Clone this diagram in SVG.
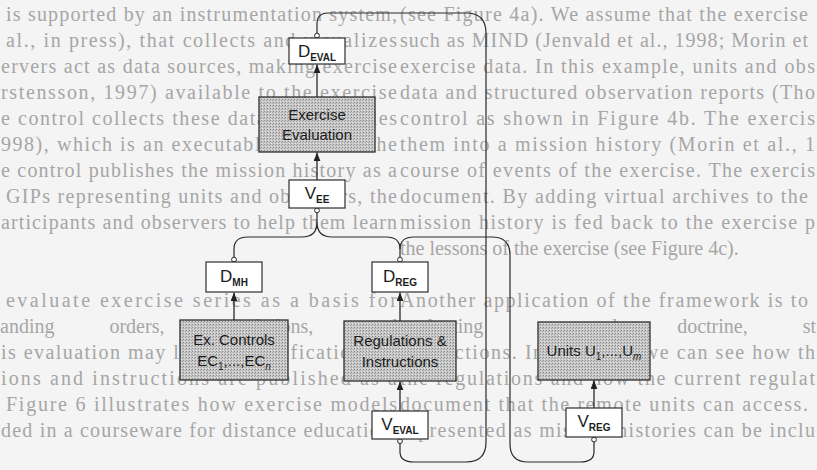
<svg xmlns="http://www.w3.org/2000/svg" width="817" height="470" viewBox="0 0 817 470">
<defs>
<pattern id="stip" width="3" height="3" patternUnits="userSpaceOnUse">
<rect width="3" height="3" fill="#c8c8c8"/>
<rect x="0" y="0" width="1" height="1" fill="#8a8a8a"/>
<rect x="2" y="1" width="1" height="1" fill="#a2a2a2"/>
<rect x="1" y="2" width="1" height="1" fill="#e2e2e2"/>
</pattern>
<marker id="arr" viewBox="0 0 10 8" refX="10" refY="4" markerWidth="9" markerHeight="7" orient="auto" markerUnits="userSpaceOnUse">
<path d="M0,0 L10,4 L0,8 z" fill="#222"/>
</marker>
</defs>
<style>
.pg{font-family:"Liberation Serif","Times New Roman",serif;font-size:20px;fill:#a6a6a6}
.sm{fill:#ffffff;stroke:#2e2e2e;stroke-width:1.2}
.gr{fill:url(#stip);stroke:#2e2e2e;stroke-width:1.3}
.lb{font-family:"Liberation Sans",Arial,sans-serif;font-size:15px;fill:#1c1c1c;text-anchor:middle}
.dl{font-family:"Liberation Sans",Arial,sans-serif;font-size:17px;fill:#1c1c1c;text-anchor:middle}
.sb{font-size:10px;font-weight:bold}
.cn{fill:none;stroke:#2a2a2a;stroke-width:1.2}
.ar{fill:none;stroke:#2a2a2a;stroke-width:1.3;marker-end:url(#arr)}
.dot{fill:#ffffff;stroke:#2a2a2a;stroke-width:1}
.ws{word-spacing:50px}
</style>
<rect width="817" height="470" fill="#f4f4f4"/>
<g id="page-text" class="pg">
<text x="400" y="21" textLength="408" lengthAdjust="spacing">(see Figure 4a). We assume that the exercise</text>
<text x="6" y="21" textLength="391" lengthAdjust="spacing">is supported by an instrumentation system,</text>
<text x="400" y="47" textLength="408" lengthAdjust="spacing">such as MIND (Jenvald et al., 1998; Morin et</text>
<text x="6" y="47" textLength="391" lengthAdjust="spacing">al., in press), that collects and visualizes</text>
<text x="400" y="73" textLength="415" lengthAdjust="spacing">exercise data. In this example, units and obs</text>
<text x="1" y="73" textLength="396" lengthAdjust="spacing">ervers act as data sources, making exercise</text>
<text x="400" y="99" textLength="415" lengthAdjust="spacing">data and structured observation reports (Tho</text>
<text x="1" y="99" textLength="396" lengthAdjust="spacing">rstensson, 1997) available to the exercise</text>
<text x="400" y="125" textLength="415" lengthAdjust="spacing">control as shown in Figure 4b. The exercis</text>
<text x="1" y="125" textLength="396" lengthAdjust="spacing">e control collects these data and compiles</text>
<text x="400" y="151" textLength="415" lengthAdjust="spacing">them into a mission history (Morin et al., 1</text>
<text x="1" y="151" textLength="396" lengthAdjust="spacing">998), which is an executable model of the</text>
<text x="400" y="177" textLength="415" lengthAdjust="spacing">course of events of the exercise. The exercis</text>
<text x="1" y="177" textLength="396" lengthAdjust="spacing">e control publishes the mission history as a</text>
<text x="400" y="203" textLength="408" lengthAdjust="spacing">document. By adding virtual archives to the</text>
<text x="6" y="203" textLength="391" lengthAdjust="spacing">GIPs representing units and observers, the</text>
<text x="400" y="229" textLength="415" lengthAdjust="spacing">mission history is fed back to the exercise p</text>
<text x="1" y="229" textLength="396" lengthAdjust="spacing">articipants and observers to help them learn</text>
<text x="400" y="255">the lessons of the exercise (see Figure 4c).</text>
<text x="400" y="307" textLength="408" lengthAdjust="spacing">Another application of the framework is to</text>
<text x="6" y="307" textLength="391" lengthAdjust="spacing">evaluate exercise series as a basis for</text>
<text class="ws" x="400" y="333">evaluating command, doctrine, st</text>
<text class="ws" x="0" y="333">anding orders, regulations, and</text>
<text x="400" y="359" textLength="415" lengthAdjust="spacing">instructions. In Figure 5, we can see how th</text>
<text x="1" y="359" textLength="396" lengthAdjust="spacing">is evaluation may lead to modifications of</text>
<text x="400" y="385" textLength="415" lengthAdjust="spacing">the regulations and how the current regulat</text>
<text x="1" y="385" textLength="396" lengthAdjust="spacing">ions and instructions are published as a</text>
<text x="400" y="411" textLength="408" lengthAdjust="spacing">document that the remote units can access.</text>
<text x="6" y="411" textLength="391" lengthAdjust="spacing">Figure 6 illustrates how exercise models</text>
<text x="400" y="437" textLength="415" lengthAdjust="spacing">represented as mission histories can be inclu</text>
<text x="1" y="437" textLength="396" lengthAdjust="spacing">ded in a courseware for distance education.</text>
</g>
<g id="connectors">
<path class="cn" d="M317,33.2 V24 Q317,13 328,13 H466 Q486,13 486,33 V442 Q486,462 466,462 H414 Q400,462 400,452 V443.6"/>
<path class="cn" d="M317,212.8 V222 Q317,237 302,237 H248 Q234,237 234,249 V257.2 M317,222 Q317,237 332,237 H386 Q400,237 400,249 V257.2"/>
<path class="cn" d="M400,249 Q400,237 414,237 H492 Q510,237 510,255 V444 Q510,462 528,462 H580 Q594,462 594,452 V442"/>
<path class="ar" d="M317,97 V64.5"/>
<path class="ar" d="M317,180 V152.5"/>
<path class="ar" d="M234,320 V292.5"/>
<path class="ar" d="M400,321 V292.5"/>
<path class="ar" d="M400,411 V381.5"/>
<path class="ar" d="M594,408 V380.5"/>
<circle class="dot" cx="317" cy="35.6" r="2.4"/>
<circle class="dot" cx="317" cy="210.4" r="2.4"/>
<circle class="dot" cx="234" cy="259.6" r="2.4"/>
<circle class="dot" cx="400" cy="259.6" r="2.4"/>
<circle class="dot" cx="400" cy="441.2" r="2.4"/>
<circle class="dot" cx="594" cy="439.6" r="2.4"/>
</g>
<g id="d-eval">
<rect class="sm" x="289" y="38" width="56" height="26"/>
<text class="dl" x="317" y="57">D<tspan class="sb" dy="4">EVAL</tspan></text>
</g>
<g id="exercise-evaluation">
<rect class="gr" x="259" y="97" width="116" height="55"/>
<text class="lb" x="317" y="120">Exercise</text>
<text class="lb" x="317" y="140">Evaluation</text>
</g>
<g id="v-ee">
<rect class="sm" x="289" y="180" width="56" height="28"/>
<text class="dl" x="317" y="199">V<tspan class="sb" dy="4">EE</tspan></text>
</g>
<g id="d-mh">
<rect class="sm" x="206" y="262" width="56" height="30"/>
<text class="dl" x="234" y="282">D<tspan class="sb" dy="4">MH</tspan></text>
</g>
<g id="d-reg">
<rect class="sm" x="372" y="262" width="56" height="30"/>
<text class="dl" x="400" y="282">D<tspan class="sb" dy="4">REG</tspan></text>
</g>
<g id="ex-controls">
<rect class="gr" x="180" y="320" width="108" height="60"/>
<text class="lb" x="234" y="345">Ex. Controls</text>
<text class="lb" x="234" y="366">EC<tspan font-size="10" dy="4">1</tspan><tspan dy="-4">,...,EC</tspan><tspan font-size="10" font-style="italic" dy="4">n</tspan></text>
</g>
<g id="regulations-instructions">
<rect class="gr" x="344" y="321" width="112" height="60"/>
<text class="lb" x="400" y="346">Regulations &amp;</text>
<text class="lb" x="400" y="367">Instructions</text>
</g>
<g id="v-eval">
<rect class="sm" x="372" y="411" width="56" height="28"/>
<text class="dl" x="400" y="430">V<tspan class="sb" dy="4">EVAL</tspan></text>
</g>
<g id="units">
<rect class="gr" x="538" y="322" width="112" height="58"/>
<text class="lb" x="594" y="356">Units U<tspan font-size="10" dy="4">1</tspan><tspan dy="-4">,...,U</tspan><tspan font-size="10" font-style="italic" dy="4">m</tspan></text>
</g>
<g id="v-reg">
<rect class="sm" x="566" y="408" width="56" height="29"/>
<text class="dl" x="594" y="427">V<tspan class="sb" dy="4">REG</tspan></text>
</g>
</svg>
